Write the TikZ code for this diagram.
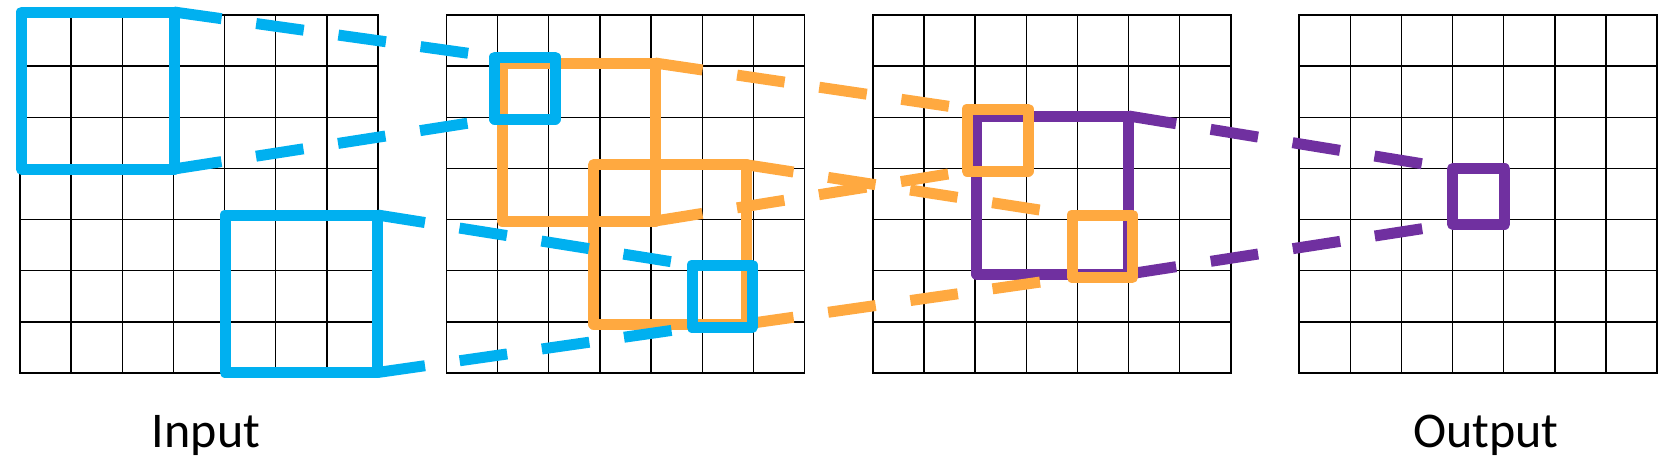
\documentclass[tikz,border=0pt]{standalone}
\usepackage{fontspec}
\setmainfont{Carlito}
\definecolor{cblue}{HTML}{00B0F0}
\definecolor{corange}{HTML}{FFA940}
\definecolor{cpurple}{HTML}{7030A0}
\begin{document}
\begin{tikzpicture}[x=1pt,y=-1pt,
  gridline/.style={black, line width=1.4pt, line cap=rect},
  sq/.style={draw, line width=11pt, line join=round, inner sep=0pt, outer sep=0pt},
  conn/.style={line width=11pt, dash pattern=on 48pt off 35pt},
  lbl/.style={font=\fontsize{50}{60}\selectfont, anchor=base, inner sep=0pt}]
\useasboundingbox (0,0) rectangle (1672,464);
% grids
\foreach \gx in {20,446.5,872.8,1299.1}{
  \foreach \k in {0,...,7}{
    \draw[gridline] (\gx+\k*51.143,15) -- (\gx+\k*51.143,373);
    \draw[gridline] (\gx,15+\k*51.143) -- (\gx+358,15+\k*51.143);
  }
}
% purple
\node[sq, cpurple, minimum width=152pt, minimum height=158pt] (P) at (1052.7,195) {};
\node[sq, cpurple, minimum width=52.2pt, minimum height=55.3pt] (p) at (1478.6,196.35) {};
\draw[conn, cpurple] (P.north east) -- (p.north west);
\draw[conn, cpurple] (P.south east) -- (p.south west);
% orange
\node[sq, corange, minimum width=153pt, minimum height=158pt] (O1) at (578.5,142) {};
\node[sq, corange, minimum width=152.3pt, minimum height=159.3pt] (O2) at (669.85,244.35) {};
\node[sq, corange, minimum width=61pt, minimum height=62pt] (o1) at (997.5,140) {};
\node[sq, corange, minimum width=60.5pt, minimum height=62.5pt] (o2) at (1102.25,246.25) {};
\draw[conn, corange] (O1.north east) -- (o1.north west);
\draw[conn, corange] (O1.south east) -- (o1.south west);
\draw[conn, corange] (O2.north east) -- (o2.north west);
\draw[conn, corange] (O2.south east) -- (o2.south west);
% blue
\node[sq, cblue, minimum width=152.5pt, minimum height=157pt] (B1) at (97.75,90.5) {};
\node[sq, cblue, minimum width=152.5pt, minimum height=157.5pt] (B2) at (301.25,293.75) {};
\node[sq, cblue, minimum width=60.3pt, minimum height=62pt] (b1) at (524.85,88) {};
\node[sq, cblue, minimum width=60pt, minimum height=62.5pt] (b2) at (722,296.25) {};
\draw[conn, cblue] (B1.north east) -- (b1.north west);
\draw[conn, cblue] (B1.south east) -- (b1.south west);
\draw[conn, cblue] (B2.north east) -- (b2.north west);
\draw[conn, cblue] (B2.south east) -- (b2.south west);
% labels
\node[lbl] (in) at (206,447) {Input};
\node[lbl] (out) at (1486,447) {Output};
\end{tikzpicture}
\end{document}
